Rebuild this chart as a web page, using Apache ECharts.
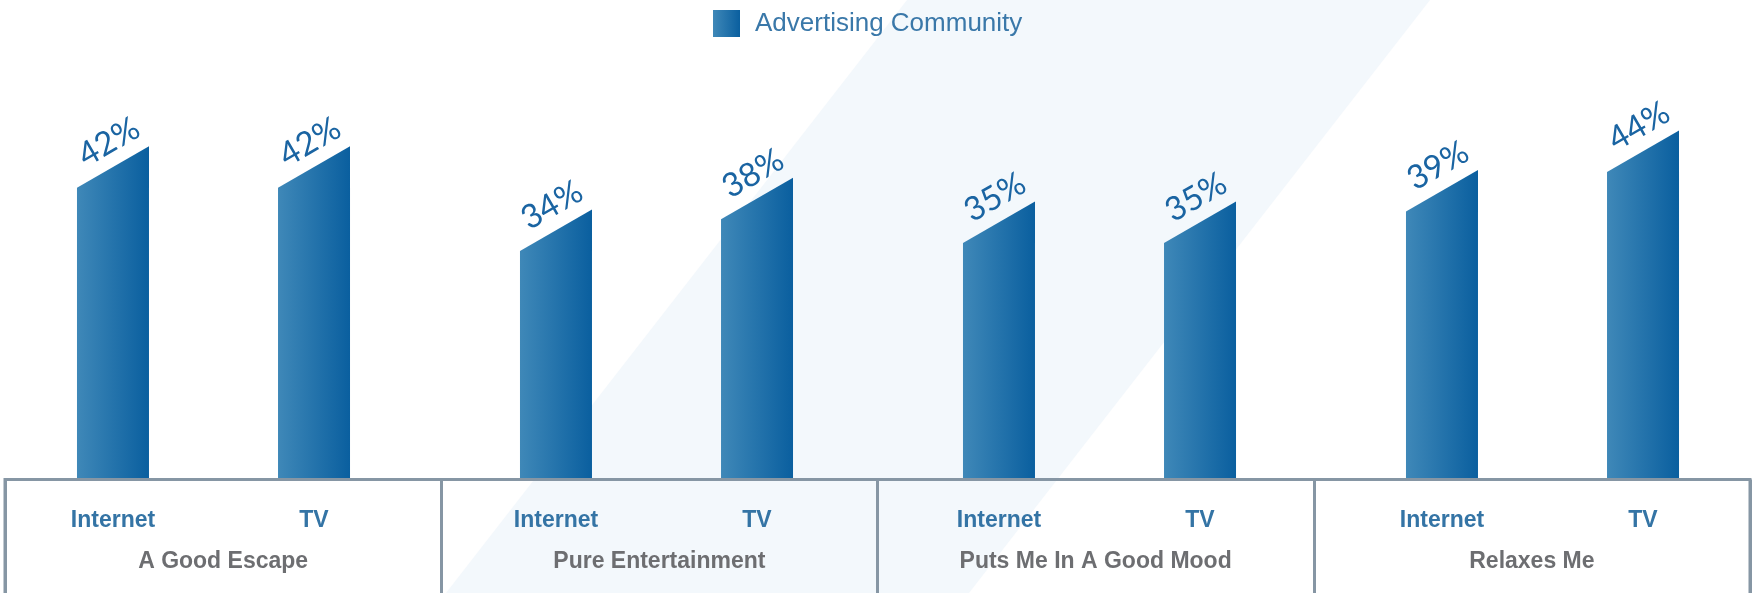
<!DOCTYPE html>
<html>
<head>
<meta charset="utf-8">
<script src="https://cdn.jsdelivr.net/npm/echarts@6/dist/echarts.min.js"></script>
<style>
  html, body { margin: 0; padding: 0; background: #ffffff; }
  #chart { width: 1752px; height: 593px; }
</style>
</head>
<body>
<div id="chart"></div>
<script>
// Survey results: share of the advertising community agreeing with each statement
const categories = ['A Good Escape', 'Pure Entertainment', 'Puts Me In A Good Mood', 'Relaxes Me'];
const channels = ['Internet', 'TV'];
const internetValues = [42, 34, 35, 39];
const tvValues = [42, 38, 35, 44];
const seriesName = 'Advertising Community';

// Styling constants
const BAR_WIDTH = 72;
const PAIR_SHIFT = 0.2269;          // offset of each bar from its group centre, as a fraction of the band
const SLANT = Math.PI / 6;          // bevelled bar tops rise 30 degrees to the right
const BLUE_LIGHT = '#3f88b8';
const BLUE_DARK = '#0a5f9f';
const LABEL_BLUE = '#1a64a2';
const BORDER = '#8696a4';
const SANS = '"Liberation Sans", Arial, sans-serif';

// One row per bar: [category index, value, channel index]
const rows = [];
categories.forEach((c, i) => {
  rows.push([i, internetValues[i], 0]);
  rows.push([i, tvValues[i], 1]);
});

function gradient() {
  return new echarts.graphic.LinearGradient(0, 0, 1, 0, [
    { offset: 0, color: BLUE_LIGHT },
    { offset: 1, color: BLUE_DARK }
  ]);
}

function renderBar(params, api) {
  const cat = api.value(0);
  const val = api.value(1);
  const ch = api.value(2);
  const top = api.coord([cat, val]);
  const base = api.coord([cat, 0]);
  const band = api.size([1, 0])[0];
  const cx = top[0] + (ch === 0 ? -1 : 1) * band * PAIR_SHIFT;
  const half = BAR_WIDTH / 2;
  const drop = BAR_WIDTH * Math.tan(SLANT);
  return {
    type: 'group',
    children: [
      {
        type: 'polygon',
        shape: {
          points: [
            [cx - half, base[1]],
            [cx + half, base[1]],
            [cx + half, top[1]],
            [cx - half, top[1] + drop]
          ]
        },
        style: { fill: gradient() }
      },
      {
        type: 'text',
        x: cx - 4,
        y: top[1] + drop / 2 - 25,
        rotation: SLANT,
        style: {
          text: val + '%',
          fill: LABEL_BLUE,
          fontSize: 33,
          fontWeight: 'normal',
          fontFamily: 'Lato, "Open Sans", sans-serif',
          align: 'center',
          verticalAlign: 'middle'
        }
      }
    ]
  };
}

const chart = echarts.init(document.getElementById('chart'), null, { renderer: 'canvas' });

chart.setOption({
  animation: false,
  backgroundColor: '#ffffff',
  graphic: [
    {
      type: 'polygon',
      z: -10,
      silent: true,
      shape: { points: [[907, 0], [1430, 0], [969, 593], [446, 593]] },
      style: { fill: '#f3f8fc' }
    }
  ],
  legend: {
    data: [seriesName],
    left: 708,
    top: 5,
    icon: 'rect',
    itemWidth: 27,
    itemHeight: 27,
    selectedMode: false,
    textStyle: {
      color: '#3a78a9',
      fontSize: 26,
      fontFamily: SANS,
      padding: [0, 0, 0, 10]
    }
  },
  grid: [
    { left: -8, width: 1772, top: 4, bottom: 115, containLabel: false, outerBoundsMode: 'none' },
    {
      left: 5, right: 2, top: 479.5, bottom: -10,
      show: true, borderColor: BORDER, borderWidth: 3, backgroundColor: 'transparent',
      containLabel: false, outerBoundsMode: 'none'
    }
  ],
  xAxis: [
    {
      gridIndex: 0,
      type: 'category',
      data: categories,
      axisLine: { show: false },
      axisTick: { show: false },
      splitLine: { show: false },
      axisLabel: {
        interval: 0,
        margin: 31,
        formatter: () => '{a|' + channels[0] + '}{b|' + channels[1] + '}',
        rich: {
          a: { width: 201, align: 'center', color: '#3474a5', fontSize: 23, fontWeight: 'bold', fontFamily: SANS, lineHeight: 24 },
          b: { width: 201, align: 'center', color: '#3474a5', fontSize: 23, fontWeight: 'bold', fontFamily: SANS, lineHeight: 24 }
        }
      }
    },
    {
      gridIndex: 1,
      type: 'category',
      data: categories,
      position: 'top',
      axisLine: { show: false },
      axisTick: { show: false },
      splitLine: { show: true, interval: 0, lineStyle: { color: BORDER, width: 3 } },
      axisLabel: {
        inside: true,
        interval: 0,
        margin: 71,
        color: '#6d6e71',
        fontSize: 23,
        fontWeight: 'bold',
        fontFamily: SANS
      }
    }
  ],
  yAxis: [
    { gridIndex: 0, type: 'value', min: 0, max: 60, show: false },
    { gridIndex: 1, type: 'value', show: false }
  ],
  series: [
    {
      type: 'custom',
      name: seriesName,
      xAxisIndex: 0,
      yAxisIndex: 0,
      data: rows,
      encode: { x: 0, y: 1 },
      clip: false,
      itemStyle: { color: gradient() },
      renderItem: renderBar
    }
  ]
});
</script>
</body>
</html>
